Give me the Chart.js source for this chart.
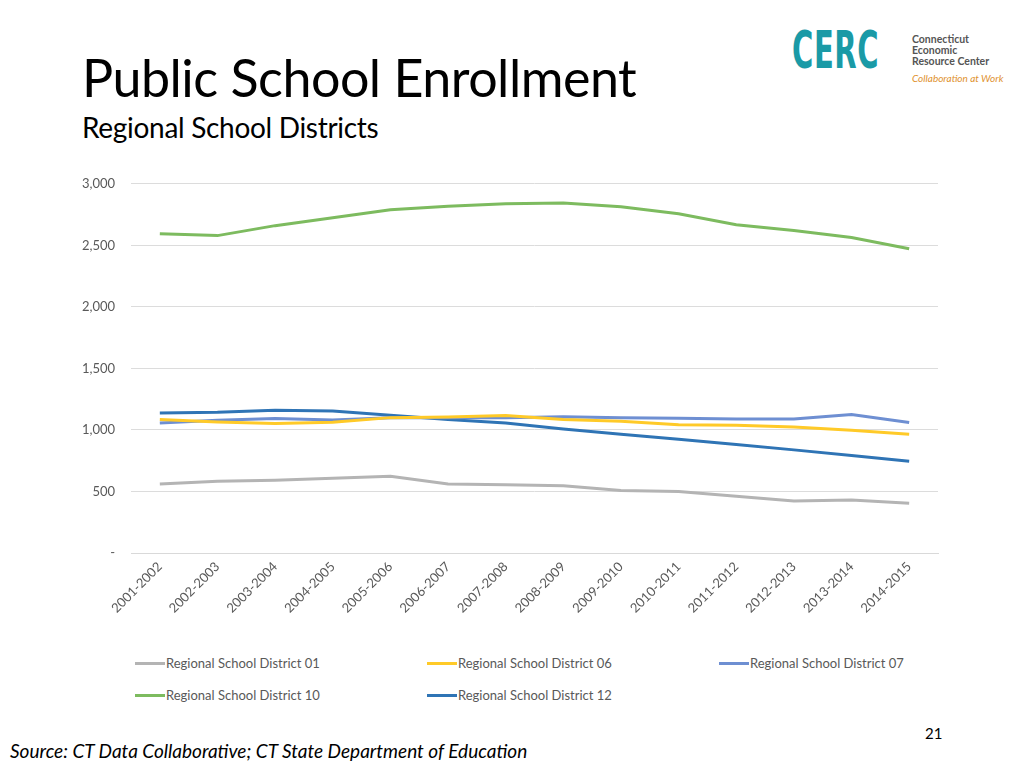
<!DOCTYPE html>
<html>
<head>
<meta charset="utf-8">
<script src="https://cdn.jsdelivr.net/npm/chart.js"></script>
<style>
  body { margin: 0; width: 1024px; height: 768px; background: #fff; position: relative; overflow: hidden; font-family: Lato, "Open Sans", sans-serif; }
  #title { position: absolute; left: 82px; top: 46px; font-size: 52px; color: #000; letter-spacing: -0.5px; }
  #subtitle { position: absolute; left: 82px; top: 110px; font-size: 28px; color: #000; letter-spacing: -0.3px; }
  #chartBox { position: absolute; left: 0; top: 160px; width: 1024px; height: 480px; }
  #legend { position: absolute; left: 135px; top: 655px; width: 880px; font-size: 13px; color: #595959; }
  .item { position: absolute; display: flex; align-items: center; white-space: nowrap; }
  .swatch { width: 30px; height: 3px; margin-right: 1px; }
  #source { position: absolute; left: 10px; top: 739px; font-size: 19px; font-style: italic; color: #000; }
  #page { position: absolute; left: 925px; top: 724px; font-size: 15px; color: #000; }
  #logo { position: absolute; left: 792px; top: 26px; }
  #logo .mark { position: absolute; left: 0; top: -6px; font-size: 52px; font-weight: bold; color: #1a9aa6; letter-spacing: 1px; font-family: "DejaVu Sans Condensed", sans-serif; transform: scaleX(0.62); transform-origin: left top; }
  #logo .org { position: absolute; left: 120px; top: 8px; font-size: 10.5px; line-height: 11px; color: #555; font-weight: bold; white-space: nowrap; }
  #logo .tag { position: absolute; left: 120px; top: 46px; font-size: 10px; color: #e0912e; font-style: italic; white-space: nowrap; }
</style>
</head>
<body>
<div id="title">Public School Enrollment</div>
<div id="subtitle">Regional School Districts</div>
<div id="logo">
  <div class="mark">CERC</div>
  <div class="org">Connecticut<br>Economic<br>Resource Center</div>
  <div class="tag">Collaboration at Work</div>
</div>
<div id="chartBox"><canvas id="enrollChart" width="1024" height="480"></canvas></div>
<div id="legend"></div>
<div id="source">Source: CT Data Collaborative; CT State Department of Education</div>
<div id="page">21</div>
<script>
  const years = ['2001-2002', '2002-2003', '2003-2004', '2004-2005', '2005-2006', '2006-2007', '2007-2008',
    '2008-2009', '2009-2010', '2010-2011', '2011-2012', '2012-2013', '2013-2014', '2014-2015'];

  const district01 = [560, 584, 592, 608, 624, 560, 555, 547, 507, 499, 462, 422, 430, 405];
  const district06 = [1084, 1065, 1052, 1062, 1100, 1105, 1117, 1084, 1070, 1043, 1038, 1024, 998, 965];
  const district07 = [1057, 1078, 1092, 1081, 1100, 1100, 1100, 1108, 1100, 1095, 1089, 1089, 1125, 1060];
  const district10 = [2595, 2579, 2660, 2725, 2790, 2818, 2838, 2843, 2814, 2757, 2668, 2620, 2563, 2473];
  const district12 = [1138, 1143, 1160, 1154, 1119, 1084, 1057, 1008, 965, 925, 881, 838, 792, 746];

  const seriesNames = ['Regional School District 01', 'Regional School District 06', 'Regional School District 07',
    'Regional School District 10', 'Regional School District 12'];
  const seriesColors = ['#b4b4b4', '#ffca28', '#6e8fd2', '#7dbb5f', '#2f74b5'];
  const seriesData = [district01, district06, district07, district10, district12];

  const ctx = document.getElementById('enrollChart').getContext('2d');
  const chart = new Chart(ctx, {
    type: 'line',
    data: {
      labels: years,
      datasets: seriesData.map((d, i) => ({
        label: seriesNames[i],
        data: d,
        borderColor: seriesColors[i],
        backgroundColor: seriesColors[i],
        borderWidth: 3,
        pointRadius: 0,
        tension: 0
      }))
    },
    options: {
      responsive: false,
      animation: false,
      layout: { padding: { top: 4, right: 86, left: 0, bottom: 0 } },
      plugins: { legend: { display: false }, tooltip: { enabled: false } },
      scales: {
        x: {
          offset: true,
          grid: { display: false, drawTicks: false },
          border: { color: '#d9d9d9' },
          ticks: { color: '#595959', font: { family: 'Lato, "Open Sans", sans-serif', size: 13 }, maxRotation: 45, minRotation: 45, padding: 6, autoSkip: false },
          afterFit: s => { s.height = 87; }
        },
        y: {
          min: 0, max: 3000,
          grid: { color: '#dcdcdc', drawTicks: false },
          border: { display: false },
          ticks: {
            stepSize: 500, padding: 16, color: '#595959',
            font: { family: 'Lato, "Open Sans", sans-serif', size: 13 },
            callback: v => v === 0 ? '-' : v.toLocaleString('en-US')
          },
          afterFit: s => { s.width = 131; }
        }
      }
    }
  });

  // legend laid out in fixed columns like the original
  const legend = document.getElementById('legend');
  chart.data.datasets.forEach((ds, i) => {
    const el = document.createElement('div');
    el.className = 'item';
    el.style.left = (i % 3) * 292 + 'px';
    el.style.top = Math.floor(i / 3) * 32 + 'px';
    el.innerHTML = '<span class="swatch" style="background:' + ds.borderColor + '"></span>' + ds.label;
    legend.appendChild(el);
  });
</script>
</body>
</html>
